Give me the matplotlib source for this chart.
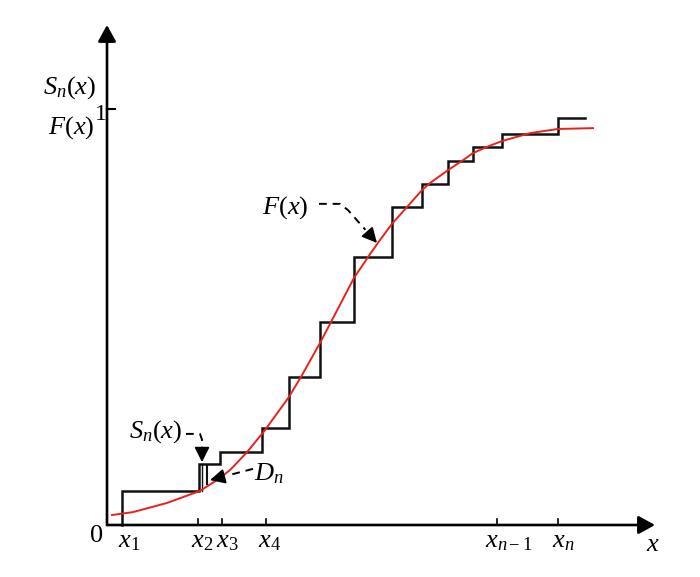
import numpy as np
import matplotlib
matplotlib.use("Agg")
import matplotlib.pyplot as plt

# ── fonts: Times-like serif for the math labels ─────────────────
plt.rcParams["mathtext.fontset"] = "custom"
plt.rcParams["mathtext.rm"] = "Liberation Serif"
plt.rcParams["mathtext.it"] = "Liberation Serif:italic"
plt.rcParams["font.family"] = ["Liberation Serif", "DejaVu Serif"]

# ── data (x in arbitrary units, y as cumulative probability) ─────
jump_x = [15, 92, 113, 155, 182, 213, 247, 285, 315, 341, 366, 395, 451]
step_levels = [0.082, 0.147, 0.175, 0.233, 0.356, 0.488, 0.644, 0.764,
               0.820, 0.875, 0.909, 0.940, 0.978]
step_end = 478

curve_x = [5, 26, 60, 93, 110, 123, 140, 158, 182, 194, 213, 224, 247, 263,
           273, 285, 298, 315, 323, 341, 356, 366, 380, 395, 423, 451, 486]
curve_y = [0.024, 0.031, 0.053, 0.082, 0.108, 0.132, 0.175, 0.228, 0.308,
           0.356, 0.4375, 0.488, 0.594, 0.651, 0.685, 0.724, 0.759, 0.805,
           0.822, 0.853, 0.877, 0.894, 0.909, 0.923, 0.942, 0.952, 0.954]

tick_x = [91, 115, 159, 390, 451]
tick_labels = [r"$x_2$", r"$x_3$", r"$x_4$", r"$x_{n-1}$", r"$x_n$"]
label_left = [84, 109, 151, 378, 445]

FS = 19

fig = plt.figure(figsize=(7, 5.77), dpi=100)
ax = fig.add_axes([0, 0, 1, 1])
ax.set_xlim(-107, 593)
ax.set_ylim(-52 / 416, 525 / 416)
ax.axis("off")

# ── axes with arrowheads ─────────────────────────────────────────
arrow_style = "-|>,head_length=1.0,head_width=0.55"
ax.annotate("", xy=(0, 1.202), xytext=(0, 0),
            arrowprops=dict(arrowstyle=arrow_style, mutation_scale=10, lw=1.9,
                            color="black", shrinkA=0, shrinkB=0))
ax.annotate("", xy=(548, 0), xytext=(0, 0),
            arrowprops=dict(arrowstyle=arrow_style, mutation_scale=10, lw=1.9,
                            color="black", shrinkA=0, shrinkB=0))
ax.plot([0, 8], [1, 1], color="black", lw=1.5)
for tx in tick_x:
    ax.plot([tx, tx], [0, 0.015], color="black", lw=1.2)

# ── empirical step function S_n(x) ───────────────────────────────
sx = [jump_x[0]]
sy = [0]
prev = 0
for jx, lv in zip(jump_x, step_levels):
    sx += [jx, jx]
    sy += [prev, lv]
    prev = lv
sx.append(step_end)
sy.append(prev)
ax.plot(sx, sy, color="#111111", lw=1.8, solid_joinstyle="miter")
ax.plot([94.5, 94.5], [step_levels[0], step_levels[1]], color="#111111", lw=1.0)

# ── theoretical F(x) ─────────────────────────────────────────────
ax.plot(curve_x, curve_y, color="#e8221b", lw=1.4)

# D_n marker
ax.plot([100, 100], [0.099, 0.142], color="#111111", lw=1.5)

# ── dashed pointer arrows ────────────────────────────────────────
def pointer(xs, ys):
    ax.plot(xs[:-1] + [xs[-1] * 0.6 + xs[-2] * 0.4],
            ys[:-1] + [ys[-1] * 0.6 + ys[-2] * 0.4],
            color="black", lw=1.4, ls=(0, (4, 3)))
    ax.annotate("", xy=(xs[-1], ys[-1]),
                xytext=(xs[-1] * 0.7 + xs[-2] * 0.3, ys[-1] * 0.7 + ys[-2] * 0.3),
                arrowprops=dict(arrowstyle="-|>,head_length=0.9,head_width=0.45",
                                mutation_scale=10, lw=1.3, color="black",
                                shrinkA=0, shrinkB=0))

pointer([79, 93, 95, 95], [0.219, 0.219, 0.205, 0.151])
pointer([212, 233, 241, 270], [0.772, 0.772, 0.757, 0.678])
pointer([146, 103], [0.135, 0.108])

# ── labels ───────────────────────────────────────────────────────
ax.text(-64, 1.038, r"$S_n(x)$", fontsize=FS, va="baseline", ha="left")
ax.text(-59, 0.942, r"$F(x)$", fontsize=FS, va="baseline", ha="left")
ax.text(-12, 0.974, "1", fontsize=FS - 2, va="baseline", ha="left")
ax.text(-17, -0.041, "0", fontsize=FS, va="baseline", ha="left")
ax.text(11, -0.053, r"$x_1$", fontsize=FS, va="baseline", ha="left")
for lx, lab in zip(label_left, tick_labels):
    ax.text(lx, -0.053, lab, fontsize=FS, va="baseline", ha="left")
ax.text(539, -0.0625, r"$x$", fontsize=FS, va="baseline", ha="left")

ax.text(22, 0.209, r"$S_n(x)$", fontsize=FS, va="baseline", ha="left")
ax.text(155, 0.748, r"$F(x)$", fontsize=FS, va="baseline", ha="left")
ax.text(147, 0.108, r"$D_n$", fontsize=FS, va="baseline", ha="left")

fig.savefig("out.png", dpi=100, facecolor="white")
plt.close()
